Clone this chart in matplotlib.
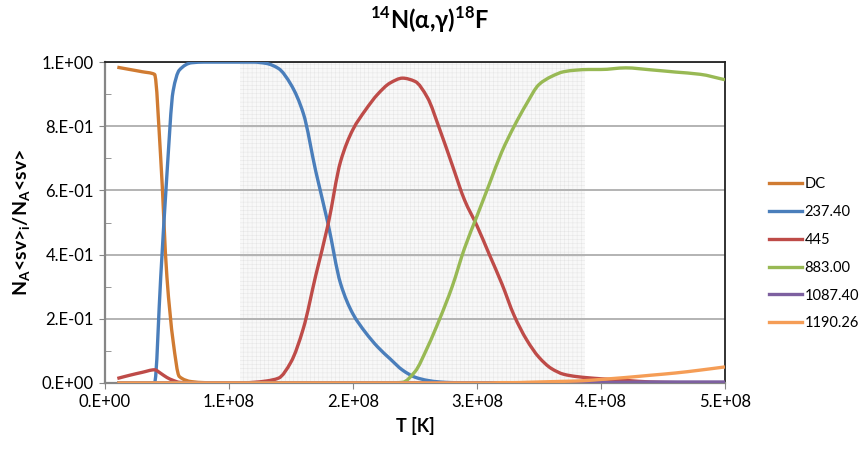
import matplotlib
matplotlib.use('Agg')
import matplotlib.pyplot as plt
import matplotlib.ticker as ticker
from matplotlib.path import Path
from matplotlib.patches import PathPatch
from matplotlib.lines import Line2D
import numpy as np

# temperature grid, units of 1e8 K
T = [0.1, 0.2, 0.3, 0.4, 0.45, 0.5, 0.55, 0.6, 0.7, 0.8, 0.9, 1.0,
     1.1, 1.2, 1.3, 1.4, 1.5, 1.6, 1.7, 1.8, 1.9, 2.0, 2.1, 2.2, 2.3,
     2.4, 2.5, 2.6, 2.7, 2.8, 2.9, 3.0, 3.1, 3.2, 3.3, 3.4, 3.5, 3.6,
     3.7, 3.8, 3.9, 4.0, 4.2, 4.4, 4.6, 4.8, 5.0]

dc = [0.984, 0.977, 0.970, 0.962, 0.70, 0.33, 0.13, 0.02, 0.004, 0.001, 0.0, 0.0,
      0.0, 0.0, 0.0, 0.0, 0.0, 0.0, 0.0, 0.0, 0.0, 0.0, 0.0, 0.0, 0.0,
      0.0, 0.0, 0.0, 0.0, 0.0, 0.0, 0.0, 0.0, 0.0, 0.0, 0.0, 0.0, 0.0,
      0.0, 0.0, 0.0, 0.0, 0.0, 0.0, 0.0, 0.0, 0.0]
r237 = [0.0, 0.0, 0.0, 0.0, 0.33, 0.65, 0.91, 0.975, 0.998, 1.0, 1.0, 1.0,
        1.0, 1.0, 0.996, 0.98, 0.93, 0.84, 0.66, 0.495, 0.31, 0.215, 0.158, 0.112, 0.075,
        0.04, 0.018, 0.008, 0.003, 0.001, 0.0, 0.0, 0.0, 0.0, 0.0, 0.0, 0.0, 0.0,
        0.0, 0.0, 0.0, 0.0, 0.0, 0.0, 0.0, 0.0, 0.0]
r445 = [0.014, 0.024, 0.033, 0.041, 0.03, 0.017, 0.008, 0.002, 0.0, 0.0, 0.0, 0.0,
        0.0, 0.002, 0.006, 0.015, 0.065, 0.17, 0.335, 0.495, 0.69, 0.79, 0.85, 0.90, 0.935,
        0.95, 0.94, 0.89, 0.79, 0.68, 0.57, 0.49, 0.40, 0.31, 0.21, 0.135, 0.08, 0.045,
        0.027, 0.02, 0.016, 0.013, 0.008, 0.003, 0.001, 0.0, 0.0]
r883 = [0.0, 0.0, 0.0, 0.0, 0.0, 0.0, 0.0, 0.0, 0.0, 0.0, 0.0, 0.0,
        0.0, 0.0, 0.0, 0.0, 0.0, 0.0, 0.0, 0.0, 0.0, 0.0, 0.0, 0.0, 0.0,
        0.002, 0.035, 0.11, 0.20, 0.30, 0.42, 0.52, 0.62, 0.72, 0.80, 0.87, 0.93, 0.955,
        0.97, 0.975, 0.977, 0.977, 0.982, 0.976, 0.969, 0.962, 0.945]
r1087 = [0.0] * 41 + [0.001, 0.002, 0.003, 0.003, 0.003, 0.003]
r1190 = [0.0] * 31 + [0.0, 0.0, 0.001, 0.001, 0.002, 0.003, 0.004,
                      0.005, 0.006, 0.008, 0.011, 0.017, 0.024, 0.031, 0.04, 0.05]

labels = ['DC', '237.40', '445', '883.00', '1087.40', '1190.26']
colors = ['#D07B32', '#4A7EBB', '#BE4B48', '#98B954', '#7D60A0', '#F59D56']
series = [dc, r237, r445, r883, r1087, r1190]

shade = (1.09e8, 3.87e8)

plt.rcParams['font.family'] = ['Lato', 'DejaVu Sans']
plt.rcParams['mathtext.fontset'] = 'custom'
plt.rcParams['mathtext.rm'] = 'Lato'
plt.rcParams['mathtext.bf'] = 'Lato:bold'
plt.rcParams['hatch.linewidth'] = 0.3
plt.rcParams['hatch.color'] = '#e2e2e2'


def sci(v, pos):
    if abs(v) < 1e-12:
        return '0.E+00'
    e = int(np.floor(np.log10(abs(v)) + 1e-9))
    m = v / 10 ** e
    return f"{m:.0f}.E{e:+03d}"


def smooth_path(xs, ys):
    # cubic Bezier through the data points (monotone tangents, no overshoot)
    xs = np.asarray(xs, float)
    ys = np.asarray(ys, float)
    h = np.diff(xs)
    d = np.diff(ys) / h
    m = np.zeros(len(xs))
    m[0], m[-1] = d[0], d[-1]
    for i in range(1, len(xs) - 1):
        if d[i - 1] * d[i] > 0:
            w1 = 2 * h[i] + h[i - 1]
            w2 = h[i] + 2 * h[i - 1]
            m[i] = (w1 + w2) / (w1 / d[i - 1] + w2 / d[i])
    verts = [(xs[0], ys[0])]
    codes = [Path.MOVETO]
    for i in range(len(xs) - 1):
        verts += [(xs[i] + h[i] / 3, ys[i] + m[i] * h[i] / 3),
                  (xs[i + 1] - h[i] / 3, ys[i + 1] - m[i + 1] * h[i] / 3),
                  (xs[i + 1], ys[i + 1])]
        codes += [Path.CURVE4] * 3
    return Path(verts, codes)


fig = plt.figure(figsize=(8.6, 4.5), dpi=100)
ax = fig.add_axes([0.122, 0.149, 0.721, 0.713])

x = np.array(T) * 1e8
handles = []
for s, lab, c in zip(series, labels, colors):
    ax.add_patch(PathPatch(smooth_path(x, s), fill=False, edgecolor=c, lw=2.4,
                           joinstyle='round', capstyle='butt', zorder=3))
    handles.append(Line2D([], [], color=c, lw=2.4, label=lab))

ax.axvspan(shade[0], shade[1], facecolor='#f8f8f8', edgecolor='#e2e2e2',
           hatch='++++', lw=0, zorder=0.4)

ax.set_xlim(0, 5e8)
ax.set_ylim(0, 1.0)
ax.xaxis.set_major_locator(ticker.MultipleLocator(1e8))
ax.yaxis.set_major_locator(ticker.MultipleLocator(0.2))
ax.yaxis.set_minor_locator(ticker.MultipleLocator(0.1))
ax.xaxis.set_major_formatter(ticker.FuncFormatter(sci))
ax.yaxis.set_major_formatter(ticker.FuncFormatter(sci))
ax.tick_params(axis='both', which='major', direction='out', length=4,
               color='#868686', labelsize=12, pad=4)
ax.tick_params(axis='y', which='minor', direction='in', length=4, color='#868686')

ax.set_axisbelow(True)
ax.grid(axis='y', which='major', color='#b3b3b3', lw=1.4, zorder=0.5)

for side in ['top', 'right']:
    ax.spines[side].set_color('#222222')
    ax.spines[side].set_linewidth(1.3)
for side in ['left', 'bottom']:
    ax.spines[side].set_color('#868686')
    ax.spines[side].set_linewidth(1.6)

ax.set_xlabel('T [K]', fontsize=13, fontweight='bold', labelpad=5)
ax.set_ylabel(r'N$_\mathbf{A}$<sv>$_\mathbf{i}$/N$_\mathbf{A}$<sv>',
              fontsize=14, fontweight='bold', labelpad=6)
fig.suptitle(r'$^\mathbf{14}$N(α,γ)$^\mathbf{18}$F', x=0.5, y=0.99,
             fontsize=17, fontweight='bold')

fig.legend(handles=handles, loc='center left', bbox_to_anchor=(0.882, 0.436),
           frameon=False, fontsize=10.5, handlelength=2.3, labelspacing=0.95,
           handletextpad=0.15, borderpad=0.2)

fig.savefig('out.png', dpi=100)
